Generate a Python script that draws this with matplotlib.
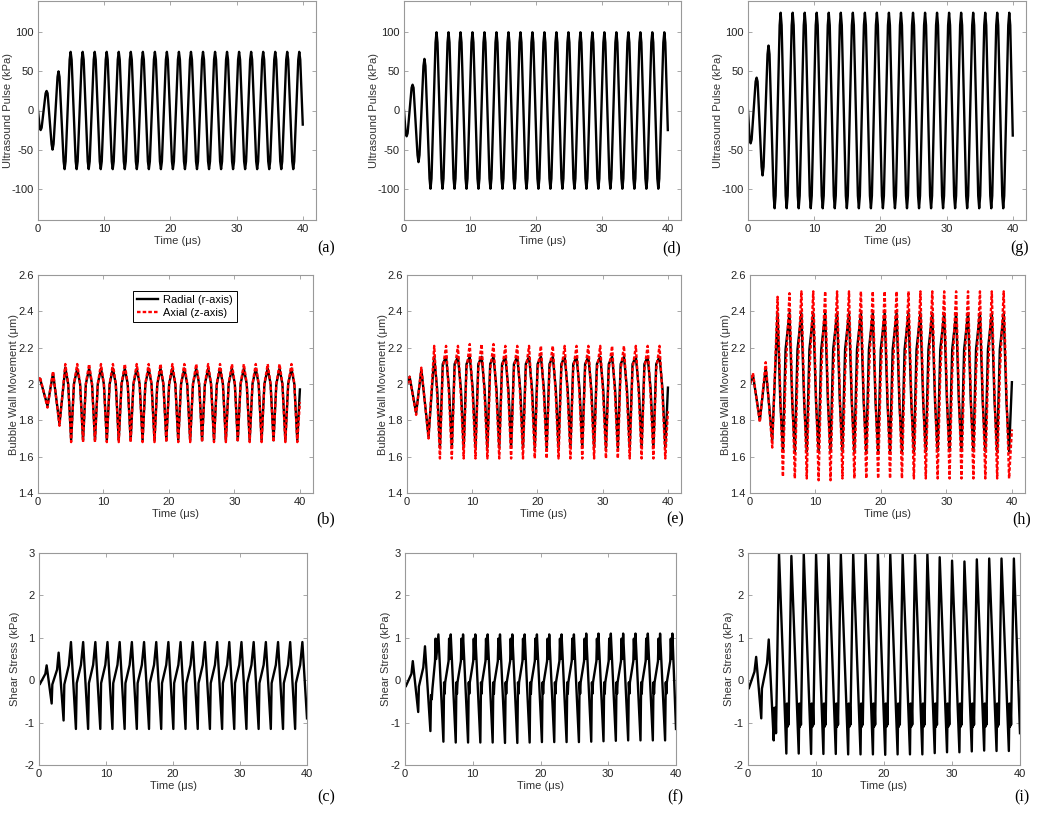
import matplotlib
matplotlib.use('Agg')
import matplotlib.pyplot as plt
from matplotlib.ticker import FuncFormatter

plt.rc('font', family=['Liberation Sans', 'DejaVu Sans'], size=8)
plt.rc('axes', unicode_minus=False)
plt.rc('xtick', direction='in', top=True, bottom=True)
plt.rc('ytick', direction='in', left=True, right=True)

# steady-state reference times (us): peaks of the driving pulse
cycle_t = [4.93, 6.75, 8.57, 10.38, 12.20, 14.02, 15.84, 17.66, 19.47, 21.29,
           23.11, 24.93, 26.75, 28.56, 30.38, 32.20, 34.02, 35.84, 37.65, 39.47]

# ---- ultrasound pulse (kPa) ----
pulse_t0 = [0, 0.25, 0.4, 0.55, 1.15, 1.3, 1.45, 2.05, 2.2, 2.35, 2.95, 3.1, 3.25,
            3.87, 4.02, 4.17]
pulse_dt = [-0.15, 0, 0.15, 0.76, 0.91, 1.06]
pulse_a_v0 = [0, -22, -25, -22, 22, 25, 22, -43, -50, -43, 43, 50, 43, -65, -75, -65]
pulse_a_dv = [65, 'P', 65, -65, 'T', -65]
pulse_a_peak = [75] * 20
pulse_a_trough = [-75] * 20
pulse_a_end = -18
pulse_d_v0 = [0, -29, -33, -29, 29, 33, 29, -57, -66, -57, 57, 66, 57, -87, -100, -87]
pulse_d_dv = [87, 'P', 87, -87, 'T', -87]
pulse_d_peak = [100] * 20
pulse_d_trough = [-100] * 20
pulse_d_end = -25
pulse_g_v0 = [0, -37, -42, -37, 37, 42, 37, -72, -83, -72, 72, 83, 72, -109, -125, -109]
pulse_g_dv = [109, 'P', 109, -109, 'T', -109]
pulse_g_peak = [125] * 20
pulse_g_trough = [-125] * 20
pulse_g_end = -32

# ---- bubble wall movement (um) ----
wall_b_t0 = [0, 0.3, 1.45, 2.3, 3.28]
wall_b_dt = [-0.76, -0.32, 0.13, 0.56]
wall_b_rad_v0 = [2.02, 2.03, 1.88, 2.06, 1.78]
wall_b_rad_dv = ['P', 2.0, 'T', 2.0]
wall_b_rad_peak = [2.09] + [2.085] * 19
wall_b_rad_trough = [1.69] * 20
wall_b_rad_end = 1.97
wall_b_ax_v0 = [2.02, 2.04, 1.87, 2.07, 1.77]
wall_b_ax_dv = ['P', 2.0, 'T', 2.0]
wall_b_ax_peak = [2.11] * 20
wall_b_ax_trough = [1.68] * 20
wall_b_ax_end = 1.9

wall_e_t0 = [0, 0.4, 1.4, 2.2, 3.3]
wall_e_dt = [-0.76, -0.3, 0.12, 0.55]
wall_e_rad_v0 = [2.0, 2.04, 1.84, 2.08, 1.71]
wall_e_rad_dv = ['P', 1.97, 'T', 2.11]
wall_e_rad_peak = [2.15] * 20
wall_e_rad_trough = [1.65] * 20
wall_e_rad_end = 1.98
wall_e_ax_v0 = [2.0, 2.04, 1.83, 2.09, 1.70]
wall_e_ax_dv = ['P', 1.93, 'T', 2.08]
wall_e_ax_peak = [2.21, 2.21, 2.21, 2.22, 2.22, 2.22, 2.21, 2.21, 2.21, 2.21,
                  2.21, 2.21, 2.21, 2.21, 2.21, 2.21, 2.21, 2.21, 2.21, 2.21]
wall_e_ax_trough = [1.59] * 20
wall_e_ax_end = 1.85

wall_h_t0 = [0, 0.45, 1.5, 2.4, 3.4]
wall_h_dt = [-0.72, -0.3, 0.1, 0.5]
wall_h_rad_v0 = [2.0, 2.05, 1.8, 2.09, 1.69]
wall_h_rad_dv = ['P', 1.9, 'T', 2.19]
wall_h_rad_peak = [2.39] * 20
wall_h_rad_trough = [1.63] * 20
wall_h_rad_end = 2.01
wall_h_ax_v0 = [2.0, 2.06, 1.79, 2.12, 1.65]
wall_h_ax_dv = ['P', 1.95, 'T', 2.05]
wall_h_ax_peak = [2.48, 2.50, 2.51, 2.51, 2.51, 2.51, 2.51, 2.51, 2.51, 2.51,
                  2.51, 2.51, 2.51, 2.51, 2.51, 2.51, 2.51, 2.51, 2.51, 2.51]
wall_h_ax_trough = [1.49, 1.48, 1.48, 1.47, 1.47, 1.48, 1.48, 1.48, 1.48, 1.48,
                    1.48, 1.48, 1.48, 1.48, 1.48, 1.48, 1.48, 1.48, 1.48, 1.48]
wall_h_ax_end = 1.75

# ---- shear stress (kPa) ----
shear_c_t0 = [0, 0.1, 0.95, 1.14, 1.89, 1.99, 2.7, 2.93, 3.67, 3.78, 4.45]
shear_c_v0 = [-0.05, -0.1, 0.15, 0.35, -0.55, -0.1, 0.25, 0.65, -0.95, -0.1, 0.35]
shear_c_dt = [-0.16, 0.58, 0.7, 1.33]
shear_c_dv = ['P', 'T', -0.07, 0.36]
shear_c_peak = [0.9] * 20
shear_c_trough = [-1.15] * 20
shear_c_end = -0.9

shear_f_t0 = [0, 0.1, 0.95, 1.15, 1.95, 2.05, 2.7, 2.95, 3.75, 3.85, 3.95, 4.05,
              4.43, 4.51, 4.61]
shear_f_v0 = [-0.1, -0.15, 0.15, 0.45, -0.75, -0.15, 0.3, 0.8, -1.2, -0.35, -0.45,
              -0.2, 0.45, 0.98, 0.5]
shear_f_dt = [0.0, 0.74, 0.84, 0.92, 1.0, 1.5, 1.58, 1.68]
shear_f_dv = ['P', 'T', -0.05, -0.32, -0.05, 0.45, 0.98, 0.5]
shear_f_peak = [1.08, 1.08, 1.08, 1.08, 1.08, 1.08, 1.08, 1.08, 1.08, 1.08,
                1.08, 1.08, 1.1, 1.1, 1.1, 1.1, 1.1, 1.1, 1.1, 1.1]
shear_f_trough = [-1.45, -1.47, -1.47, -1.47, -1.47, -1.48, -1.48, -1.47, -1.46,
                  -1.46, -1.46, -1.46, -1.45, -1.44, -1.43, -1.42, -1.42, -1.42,
                  -1.42, -1.42]
shear_f_end = -1.15

shear_i_t0 = [0, 0.1, 0.95, 1.2, 1.95, 2.05, 2.8, 3.05, 3.78, 3.88, 3.96, 4.04, 4.12]
shear_i_v0 = [-0.1, -0.2, 0.2, 0.55, -0.9, -0.2, 0.4, 0.96, -1.42, -0.65, -1.25,
              -0.65, -1.25]
shear_i_dt = [-0.37, 0.71, 0.8, 0.88, 0.96, 1.04]
shear_i_dv = ['P', 'T', -0.55, -1.1, -0.62, -1.05]
shear_i_peak = [3.0, 2.93, 2.98, 2.97, 3.0, 2.98, 3.0, 2.98, 3.0, 2.98,
                2.97, 2.95, 2.97, 2.9, 2.82, 2.8, 2.85, 2.87, 2.87, 2.87]
shear_i_trough = [-1.73, -1.73, -1.74, -1.74, -1.74, -1.75, -1.75, -1.75, -1.76,
                  -1.75, -1.75, -1.75, -1.72, -1.7, -1.7, -1.68, -1.66, -1.67,
                  -1.67, -1.67]
shear_i_end = -1.25


def build(t0, v0, dt, dv, peaks, troughs, end_v):
    # transient part, then the key points of every cycle, then the last sample
    t, v = list(t0), list(v0)
    for k, c in enumerate(cycle_t):
        for d, val in zip(dt, dv):
            if c + d > 39.9:
                break
            if val == 'P':
                val = peaks[k]
            elif val == 'T':
                val = troughs[k]
            t.append(c + d)
            v.append(val)
    t.append(40.0)
    v.append(end_v)
    return t, v


fig = plt.figure(figsize=(10.5, 8.14), dpi=100)
W, H = 1050.0, 814.0


def make_ax(x0, x1, y0, y1):
    return fig.add_axes([x0 / W, 1 - y1 / H, (x1 - x0) / W, (y1 - y0) / H])


def style(ax):
    for s in ax.spines.values():
        s.set_color('#999999')
        s.set_linewidth(0.8)
    ax.tick_params(which='both', length=3, width=0.6, color='#999999',
                   labelcolor='#222222', labelsize=8, pad=3)


def labels(ax, ylab, off, width):
    # off: distance (px) from the left spine to the centre of the y label
    ax.set_xlabel('Time (μs)', color='#333333', fontsize=8, labelpad=1)
    ax.set_ylabel(ylab, color='#333333', fontsize=8, va='center')
    ax.yaxis.set_label_coords(-off / width, 0.5)


def letter(x, y, s):
    fig.text(x / W, 1 - y / H, s, family='Liberation Serif', fontsize=11.5,
             ha='center', va='center')


gfmt = FuncFormatter(lambda x, p: '%g' % x)
black = dict(color='black', lw=1.7)
red = dict(color='red', lw=1.7, ls=(0, (1.5, 0.9)))

# row 1: pulse
rows1 = [((38, 316), pulse_a_v0, pulse_a_dv, pulse_a_peak, pulse_a_trough, pulse_a_end, '(a)', 326),
         ((404, 681), pulse_d_v0, pulse_d_dv, pulse_d_peak, pulse_d_trough, pulse_d_end, '(d)', 672),
         ((748, 1026), pulse_g_v0, pulse_g_dv, pulse_g_peak, pulse_g_trough, pulse_g_end, '(g)', 1020)]
for (x0, x1), v0, dv, pk, tr, end, lab, lx in rows1:
    ax = make_ax(x0, x1, 1, 220)
    t, v = build(pulse_t0, v0, pulse_dt, dv, pk, tr, end)
    ax.plot(t, v, **black)
    ax.set_xlim(0, 42)
    ax.set_ylim(-140, 140)
    ax.set_xticks([0, 10, 20, 30, 40])
    ax.set_yticks([-100, -50, 0, 50, 100])
    labels(ax, 'Ultrasound Pulse (kPa)', 30, x1 - x0)
    style(ax)
    letter(lx, 248, lab)

# row 2: bubble wall
rows2 = [((38, 313), wall_b_t0, wall_b_dt,
          (wall_b_rad_v0, wall_b_rad_dv, wall_b_rad_peak, wall_b_rad_trough, wall_b_rad_end),
          (wall_b_ax_v0, wall_b_ax_dv, wall_b_ax_peak, wall_b_ax_trough, wall_b_ax_end),
          '(b)', 326),
         ((407, 681), wall_e_t0, wall_e_dt,
          (wall_e_rad_v0, wall_e_rad_dv, wall_e_rad_peak, wall_e_rad_trough, wall_e_rad_end),
          (wall_e_ax_v0, wall_e_ax_dv, wall_e_ax_peak, wall_e_ax_trough, wall_e_ax_end),
          '(e)', 675),
         ((750, 1025), wall_h_t0, wall_h_dt,
          (wall_h_rad_v0, wall_h_rad_dv, wall_h_rad_peak, wall_h_rad_trough, wall_h_rad_end),
          (wall_h_ax_v0, wall_h_ax_dv, wall_h_ax_peak, wall_h_ax_trough, wall_h_ax_end),
          '(h)', 1022)]
for i, ((x0, x1), t0, dt, rad, axl, lab, lx) in enumerate(rows2):
    ax = make_ax(x0, x1, 275, 493)
    tr_, vr_ = build(t0, rad[0], dt, rad[1], rad[2], rad[3], rad[4])
    ta_, va_ = build(t0, axl[0], dt, axl[1], axl[2], axl[3], axl[4])
    ax.plot(tr_, vr_, label='Radial (r-axis)', **black)
    ax.plot(ta_, va_, label='Axial (z-axis)', **red)
    ax.set_xlim(0, 42)
    ax.set_ylim(1.4, 2.6)
    ax.set_xticks([0, 10, 20, 30, 40])
    ax.set_yticks([1.4, 1.6, 1.8, 2.0, 2.2, 2.4, 2.6])
    ax.yaxis.set_major_formatter(gfmt)
    labels(ax, 'Bubble Wall Movement (μm)', 24, x1 - x0)
    style(ax)
    if i == 0:
        leg = ax.legend(loc='upper left', bbox_to_anchor=(0.345, 0.925), fontsize=8,
                        fancybox=False, framealpha=1, handlelength=1.9,
                        handletextpad=0.5, borderpad=0.35, labelspacing=0.25,
                        borderaxespad=0)
        leg.get_frame().set_edgecolor('black')
        leg.get_frame().set_linewidth(0.7)
    letter(lx, 519, lab)

# row 3: shear stress
rows3 = [((39, 307), shear_c_t0, shear_c_v0, shear_c_dt, shear_c_dv, shear_c_peak,
          shear_c_trough, shear_c_end, '(c)', 326, 24),
         ((405, 676), shear_f_t0, shear_f_v0, shear_f_dt, shear_f_dv, shear_f_peak,
          shear_f_trough, shear_f_end, '(f)', 675, 19),
         ((748, 1020), shear_i_t0, shear_i_v0, shear_i_dt, shear_i_dv, shear_i_peak,
          shear_i_trough, shear_i_end, '(i)', 1022, 19)]
for (x0, x1), t0, v0, dt, dv, pk, tr, end, lab, lx, off in rows3:
    ax = make_ax(x0, x1, 553, 765)
    t, v = build(t0, v0, dt, dv, pk, tr, end)
    ax.plot(t, v, **black)
    ax.set_xlim(0, 40)
    ax.set_ylim(-2, 3)
    ax.set_xticks([0, 10, 20, 30, 40])
    ax.set_yticks([-2, -1, 0, 1, 2, 3])
    labels(ax, 'Shear Stress (kPa)', off, x1 - x0)
    style(ax)
    letter(lx, 797, lab)

fig.savefig('out.png', dpi=100)
